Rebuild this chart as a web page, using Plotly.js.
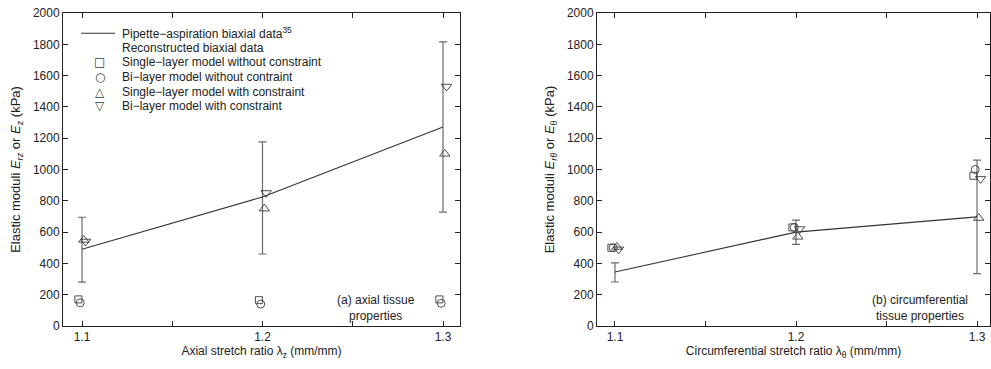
<!DOCTYPE html>
<html>
<head>
<meta charset="utf-8">
<script src="https://cdn.plot.ly/plotly-3.0.1.min.js"></script>
<style>html,body{margin:0;padding:0;background:#fff;}#chart{width:991px;height:369px;}</style>
</head>
<body>
<div id="chart"></div>
<script>
// ---- data ----
var stretch = [1.1, 1.2, 1.3];
var xTickVals = [1.1, 1.15, 1.2, 1.25, 1.3];
var xTickText = ['1.1', '', '1.2', '', '1.3'];

// (a) axial
var axialPipette = [490, 824, 1272];
var axialErrPlus = [205, 352, 543];
var axialErrMinus = [210, 364, 544];
var axialSingleNoC = [170, 165, 170];
var axialBiNoC = [148, 140, 145];
var axialSingleC = [550, 750, 1100];
var axialBiC = [540, 850, 1530];

// (b) circumferential
var circPipette = [345, 600, 697];
var circErrPlus = [58, 76, 363];
var circErrMinus = [64, 79, 362];
var circSingleNoC = [500, 630, 960];
var circBiNoC = [500, 630, 1000];
var circSingleC = [505, 570, 690];
var circBiC = [490, 620, 940];

// small horizontal offsets of the reconstructed points
var offSquare = -0.002, offCircle = -0.001, offUp = 0.001, offDown = 0.002;

var legendLabels = [
  'Pipette\u2212aspiration biaxial data<sup>35</sup>',
  'Reconstructed biaxial data',
  'Single\u2212layer model without constraint',
  'Bi\u2212layer model without contraint',
  'Single\u2212layer model with constraint',
  'Bi\u2212layer model with constraint'
];
var legendGlyphs = ['', '', '\u25A1', '\u25CB', '\u25B3', '\u25BD'];

// ---- build ----
function shift(arr, d){ return arr.map(function(v){ return +(v + d).toFixed(4); }); }
var lineCol = '#333333', errCol = '#6a6a6a', mkCol = '#3a3a3a';
var FONT = 'Liberation Sans, Arial, Helvetica, sans-serif';

function panel(xa, ya, pip, ep, em, sq, ci, up, dn){
  var tr = [];
  tr.push({x: stretch, y: pip, xaxis: xa, yaxis: ya, mode: 'lines', type: 'scatter',
    line: {color: lineCol, width: 1.1}, showlegend: false,
    error_y: {type: 'data', array: ep, arrayminus: em, visible: true, color: errCol, thickness: 1.2, width: 4}});
  var mk = function(yv, off, sym, sz){
    return {x: shift(stretch, off), y: yv, xaxis: xa, yaxis: ya, mode: 'markers', type: 'scatter', showlegend: false,
      marker: {symbol: sym, size: sz, color: mkCol, line: {color: mkCol, width: 0.9}}};
  };
  tr.push(mk(sq, offSquare, 'square-open', 7));
  tr.push(mk(ci, offCircle, 'circle-open', 8));
  tr.push(mk(up, offUp, 'triangle-up-open', 9));
  tr.push(mk(dn, offDown, 'triangle-down-open', 9));
  return tr;
}

var traces = panel('x', 'y', axialPipette, axialErrPlus, axialErrMinus, axialSingleNoC, axialBiNoC, axialSingleC, axialBiC)
  .concat(panel('x2', 'y2', circPipette, circErrPlus, circErrMinus, circSingleNoC, circBiNoC, circSingleC, circBiC));

function xax(dom, rng, title){
  return {domain: dom, range: rng, tickvals: xTickVals, ticktext: xTickText, ticks: 'inside', ticklen: 5,
    tickcolor: '#222', showline: true, linecolor: '#222', linewidth: 1, mirror: 'ticks', showgrid: false, zeroline: false,
    tickfont: {family: FONT, size: 12, color: '#222'},
    title: {text: title, font: {family: FONT, size: 12, color: '#222'}, standoff: 2}};
}
function yax(dom, anchor, title){
  return {domain: dom, range: [0, 2000], dtick: 200, tick0: 0, ticks: 'inside', ticklen: 5, anchor: anchor,
    tickcolor: '#222', showline: true, linecolor: '#222', linewidth: 1, mirror: 'ticks', showgrid: false, zeroline: false,
    tickfont: {family: FONT, size: 12, color: '#222'},
    title: {text: title, font: {family: FONT, size: 13, color: '#222'}, standoff: 9}};
}

var W = 991, H = 369;
function px(x){ return x / W; }
function py(y){ return 1 - y / H; }
var yDom = [py(326), py(13)];

var annotations = [];
var shapes = [];
var rowY0 = 33.3, rowDy = 14.6;
legendLabels.forEach(function(t, i){
  annotations.push({xref: 'paper', yref: 'paper', x: px(120), y: py(rowY0 + i * rowDy), xanchor: 'left', yanchor: 'middle',
    text: t, showarrow: false, font: {family: FONT, size: 12, color: '#222'}});
  if (legendGlyphs[i]) {
    annotations.push({xref: 'paper', yref: 'paper', x: px(99.5), y: py(rowY0 + i * rowDy), xanchor: 'center', yanchor: 'middle',
      text: legendGlyphs[i], showarrow: false, font: {family: 'DejaVu Sans', size: 12, color: mkCol}});
  }
});
shapes.push({type: 'line', xref: 'paper', yref: 'paper', x0: px(81), x1: px(115), y0: py(rowY0), y1: py(rowY0),
  line: {color: lineCol, width: 1.1}});

function note(text, cx, cy){
  annotations.push({xref: 'paper', yref: 'paper', x: px(cx), y: py(cy), xanchor: 'center', yanchor: 'middle',
    text: text, showarrow: false, align: 'center', font: {family: FONT, size: 12, color: '#222'}});
}
note('(a) axial tissue<br>properties', 376, 308);
note('(b) circumferential<br>tissue properties', 920, 308);

var layout = {
  width: W, height: H, margin: {l: 0, r: 0, t: 0, b: 0, pad: 0},
  paper_bgcolor: '#fff', plot_bgcolor: '#fff', showlegend: false,
  font: {family: FONT, size: 12, color: '#222'},
  xaxis: xax([px(63), px(460)], [1.08947, 1.30942], 'Axial stretch ratio \u03BB<sub>z</sub> (mm/mm)'),
  yaxis: yax(yDom, 'x', 'Elastic moduli <i>E</i><sub><i>rz</i></sub> or <i>E</i><sub>z</sub> (kPa)'),
  xaxis2: xax([px(597), px(990)], [1.09006, 1.30718], 'Circumferential stretch ratio \u03BB<sub>\u03B8</sub> (mm/mm)'),
  yaxis2: yax(yDom, 'x2', 'Elastic moduli <i>E</i><sub><i>r\u03B8</i></sub> or <i>E</i><sub>\u03B8</sub> (kPa)'),
  annotations: annotations, shapes: shapes
};
layout.xaxis.anchor = 'y';
layout.xaxis2.anchor = 'y2';

Plotly.newPlot('chart', traces, layout, {staticPlot: true, displayModeBar: false});
</script>
</body>
</html>
